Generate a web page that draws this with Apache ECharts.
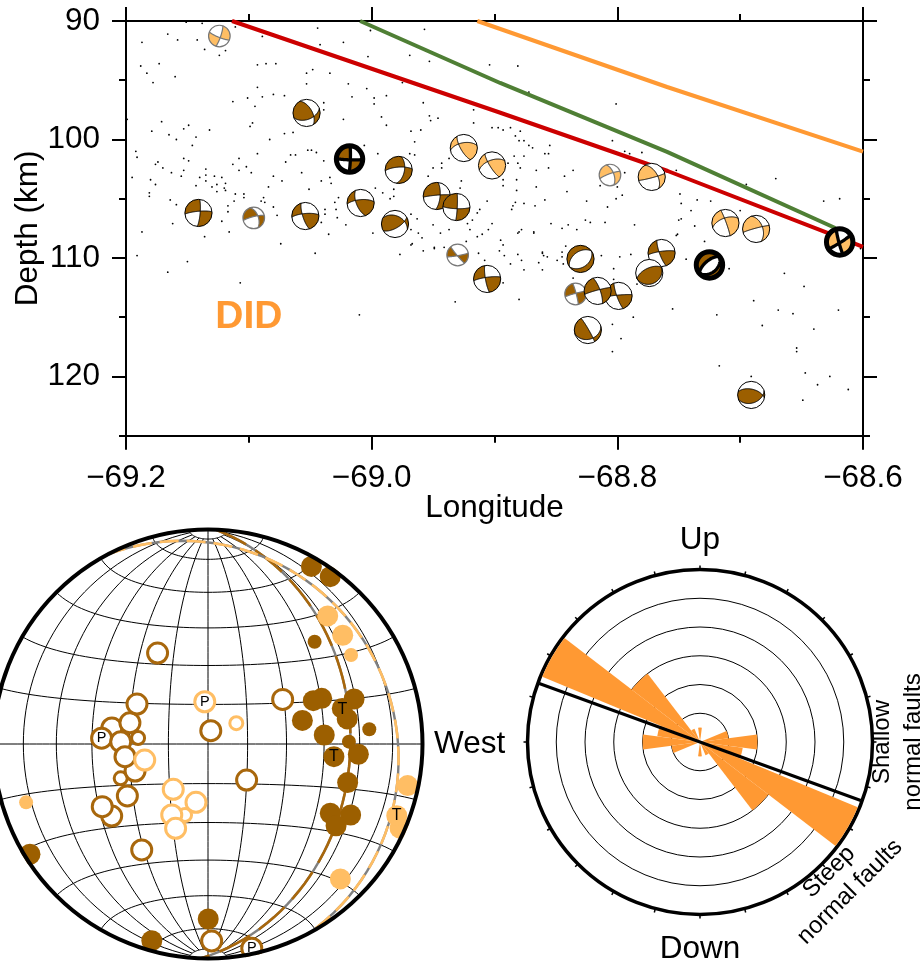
<!DOCTYPE html>
<html><head><meta charset="utf-8">
<style>html,body{margin:0;padding:0;background:#fff}#c{width:922px;height:965px}</style>
<script src="https://cdn.jsdelivr.net/npm/echarts@6/dist/echarts.min.js"></script>
</head><body><div id="c"></div>
<script>
// ---------- section plot data ----------
const xTicks = [-69.2, -69.0, -68.8, -68.6];
const yTicks = [90, 100, 110, 120];
const redLine = [[-69.1137,90],[-68.897,97.68],[-68.759,102.66],[-68.631,107.8],[-68.6,109.07]];
const greenLine = [[-69.0094,90],[-68.8954,95.23],[-68.7595,101.05],[-68.6226,107.47]];
const orangeLine = [[-68.914,90],[-68.7595,95.57],[-68.6,101.03]];
const regionLabel = [[-69.1,115]];
const quakeDots = [
[-69.187,91.8],[-69.166,91.1],[-69.158,91.6],[-69.151,90.1],[-69.138,90.2],[-69.142,91.6],[-69.136,92.4],[-69.124,92.9],[-69.119,92.5],[-69.111,90.5],
[-69.089,91.3],[-69.044,90.6],[-69.042,92.0],[-69.023,91.8],[-69.001,90.8],[-68.957,90.7],[-69.003,93.0],[-68.969,92.9],[-68.953,93.4],[-68.904,93.7],
[-69.188,93.8],[-69.183,94.4],[-69.173,93.6],[-69.160,94.7],[-69.178,95.2],[-69.093,93.7],[-69.086,93.6],[-69.078,93.6],[-69.053,94.4],[-69.048,94.1],
[-69.034,94.4],[-69.053,95.3],[-69.093,95.6],[-69.019,95.3],[-69.004,95.7],[-68.975,95.2],[-69.113,96.8],[-69.101,96.5],[-69.089,96.4],[-69.080,96.2],
[-69.071,96.3],[-69.095,97.2],[-69.039,96.9],[-69.039,97.5],[-69.016,96.4],[-68.988,96.3],[-68.998,96.5],[-68.998,97.0],[-68.958,96.9],[-68.917,97.5],
[-69.199,98.3],[-69.171,98.5],[-69.179,99.3],[-69.149,98.8],[-69.153,99.1],[-69.132,99.2],[-69.097,98.6],[-69.099,98.9],[-69.165,99.6],[-69.159,100.0],
[-69.143,99.8],[-69.146,100.5],[-69.071,99.5],[-69.064,99.4],[-69.083,100.0],[-69.023,98.3],[-68.992,98.1],[-68.988,98.8],[-68.968,99.3],[-68.960,99.2],
[-68.953,98.0],[-68.952,98.4],[-68.946,98.2],[-68.917,98.6],[-68.902,99.0],[-68.897,99.0],[-68.965,100.2],[-69.192,101.0],[-69.191,101.5],[-69.176,102.1],
[-69.174,101.9],[-69.170,102.4],[-69.163,102.8],[-69.155,103.1],[-69.153,101.6],[-69.149,101.8],[-69.153,102.6],[-69.093,101.2],[-69.108,101.6],[-69.113,102.1],
[-69.102,102.3],[-69.108,102.6],[-69.098,102.8],[-69.066,101.3],[-69.062,101.3],[-69.052,100.9],[-69.049,100.9],[-69.045,101.1],[-69.070,101.9],[-69.039,101.8],
[-69.006,100.5],[-68.995,101.2],[-68.969,101.2],[-68.965,101.3],[-68.937,101.6],[-68.943,102.0],[-68.950,102.4],[-68.943,102.4],[-69.195,103.2],[-69.180,103.4],
[-69.176,103.8],[-69.135,102.5],[-69.135,103.0],[-69.140,103.2],[-69.128,103.1],[-69.122,103.2],[-69.143,103.9],[-69.135,103.5],[-69.126,103.8],[-69.119,103.7],
[-69.130,104.0],[-69.126,104.4],[-69.120,104.1],[-69.119,104.3],[-69.181,104.5],[-69.181,104.8],[-69.164,105.1],[-69.159,105.5],[-69.111,104.6],[-69.104,104.6],
[-69.104,104.9],[-69.112,105.2],[-69.090,105.2],[-69.088,104.9],[-69.087,105.3],[-69.057,102.8],[-69.080,103.1],[-69.073,103.5],[-69.084,104.0],[-69.051,104.2],
[-69.041,103.5],[-69.034,103.2],[-69.033,103.7],[-68.954,103.1],[-68.927,103.5],[-68.928,104.1],[-68.997,104.1],[-69.002,104.5],[-68.991,104.5],[-68.985,105.0],
[-68.982,104.2],[-68.982,104.8],[-69.027,104.9],[-69.030,105.3],[-69.117,105.6],[-69.117,106.1],[-69.080,105.7],[-69.077,106.4],[-69.038,105.9],[-69.038,106.3],
[-69.029,105.9],[-69.162,107.1],[-69.122,106.9],[-69.187,107.8],[-69.116,107.8],[-69.136,108.2],[-69.041,107.0],[-69.035,108.0],[-69.028,106.6],[-69.021,107.2],
[-68.999,107.9],[-68.977,106.8],[-68.968,106.3],[-68.963,106.7],[-68.968,107.6],[-68.950,107.2],[-68.937,107.6],[-68.944,107.9],[-68.962,107.9],[-68.959,108.3],
[-68.922,107.1],[-68.918,106.8],[-68.912,105.9],[-68.906,105.2],[-68.914,106.2],[-68.920,107.6],[-68.914,108.2],[-68.910,108.0],[-68.902,107.1],[-68.905,107.6],
[-68.967,108.8],[-69.074,108.8],[-68.977,109.7],[-69.046,109.6],[-68.958,109.4],[-68.949,109.1],[-68.949,109.2],[-68.941,109.1],[-68.913,109.6],
[-69.191,109.8],[-69.166,111.2],[-69.150,110.3],[-69.107,112.1],[-69.010,114.8],[-68.932,113.7],[-68.908,110.2],[-68.896,109.4],[-68.923,108.6],[-68.968,108.9],
[-68.881,93.8],[-68.872,96.0],[-68.801,97.0],[-68.893,99.2],[-68.887,99.0],[-68.879,99.3],[-68.883,99.7],[-68.880,100.1],[-68.876,100.1],[-68.872,100.5],
[-68.869,100.7],[-68.855,100.5],[-68.859,101.2],[-68.856,101.2],[-68.804,100.1],[-68.794,101.0],[-68.790,101.2],[-68.780,101.1],[-68.752,102.6],[-68.695,103.8],
[-68.671,103.3],[-68.632,105.2],[-68.619,105.0],[-68.884,101.4],[-68.876,101.4],[-68.889,102.0],[-68.881,102.0],[-68.879,102.4],[-68.866,102.6],[-68.856,102.4],
[-68.843,103.1],[-68.836,102.6],[-68.794,102.8],[-68.814,103.9],[-68.800,104.0],[-68.796,104.7],[-68.801,105.0],[-68.841,104.4],[-68.825,105.2],[-68.859,105.1],
[-68.867,105.6],[-68.876,105.4],[-68.883,105.3],[-68.885,105.6],[-68.886,105.9],[-68.882,104.3],[-68.882,103.4],[-68.866,104.0],[-68.893,103.4],[-68.893,103.9],
[-68.808,105.7],[-68.826,106.8],[-68.822,107.0],[-68.810,107.0],[-68.854,107.1],[-68.845,107.5],[-68.840,107.2],[-68.833,107.6],[-68.786,107.2],[-68.868,107.8],
[-68.878,107.6],[-68.880,107.8],[-68.895,108.5],[-68.861,109.5],[-68.845,109.9],[-68.857,109.9],[-68.749,104.6],[-68.748,105.4],[-68.735,105.1],[-68.724,105.2],
[-68.740,106.0],[-68.748,106.7],[-68.750,106.8],[-68.737,107.3],[-68.751,108.0],[-68.729,108.6],[-68.700,106.0],
[-68.893,108.9],[-68.892,109.8],[-68.881,109.7],[-68.878,110.2],[-68.887,110.5],[-68.876,111.0],[-68.893,112.1],[-68.880,113.5],[-68.868,107.9],[-68.881,107.9],
[-68.864,110.4],[-68.861,109.6],[-68.860,109.8],[-68.861,111.0],[-68.849,110.2],[-68.845,109.5],[-68.842,109.0],[-68.844,110.5],[-68.813,109.8],[-68.798,109.9],
[-68.789,109.7],[-68.803,110.9],[-68.744,110.1],[-68.752,108.1],[-68.836,111.7],[-68.803,111.8],[-68.784,112.2],[-68.755,114.3],[-68.787,115.0],[-68.804,115.6],
[-68.797,116.8],[-68.804,117.9],[-68.719,114.8],[-68.709,110.9],[-68.664,111.3],[-68.648,112.4],[-68.689,113.6],[-68.669,114.4],[-68.657,114.7],[-68.620,114.4],
[-68.640,116.0],[-68.682,115.7],[-68.654,117.6],[-68.654,117.9],[-68.717,119.1],[-68.647,119.7],[-68.627,120.0],[-68.637,120.7],[-68.612,121.1],[-68.649,122.0],
[-68.691,120.0],[-68.602,109.2]];
// focal mechanisms
const ballLon =   [-69.124,-69.053,-69.018,-68.978,-68.925,-68.902,-68.947,-68.931,-69.009,-68.981,-69.054,-69.096,-69.141,-68.930,-68.906,-68.806,-68.772,-68.712,-68.687,-68.619,-68.830,-68.764,-68.774,-68.725,-68.834,-68.799,-68.816,-68.824,-68.691];
const ballDepth = [91.27,97.76,101.65,102.57,100.72,102.19,104.77,105.7,105.36,107.13,106.46,106.62,106.2,109.75,111.77,103.0,103.16,107.05,107.55,108.65,110.08,109.58,111.27,110.59,113.04,113.2,112.78,116.08,121.56];
const ballGroup = ['o','b','b','b','o','o','b','b','b','b','b','b','b','b','b','o','o','o','o','o','b','b','b','b','b','b','b','b','b'];
const ballKind =  ['s','n','m','n','n','n','n','n','n','n','n','s','n','s','n','s','n','n','n','m','n','n','n','m','s','n','n','n','n'];
const strike1 =   [112,330, 92,266,260,250,265, 92,265,295,265,256,265,140,262,250, 75,250,255,165,235,262,245,230,255,265,255,330,283];
const dip1 =      [ 80, 57, 85, 73, 58, 58, 85, 80, 70, 40, 75, 80, 80, 85, 80, 80, 85, 60, 85, 85, 45, 80, 60, 63, 85, 85, 85, 85, 55];
const strike2 =   [ 19, 70,  2, 10,150,148,  5,  3,158, 60,162,340,  5, 80,170,340,330,340,340, 58, 55,160, 65, 50,345,160,340, 75, 72];
const dip2 =      [ 80, 50, 85, 55, 72, 78, 70, 85, 65, 65, 75, 55, 80, 85, 80, 60, 55, 85, 50, 85, 38, 78, 20, 40, 85, 80, 75, 32, 40];
const fillAz =    [250,270,315,340,120, 90,330,300,130,  0,130,320,315,275,130,320,300,300,300,100,330,130,  0,320,320,130,300,280,  0];
const fillRho =   [ .6, .3, .5, .6, .4, .6, .6, .6, .6, .1, .6, .6, .6, .6, .6, .6, .6, .6, .6, .6, .8, .6,.05, .8, .6, .6, .6, .5,  0];
// ---------- stereonet data (net coordinates, -1..1) ----------
const hollowBrown = [[-.235,.424],[-.448,.075],[-.364,.099],[-.331,.186],[-.496,.027],[-.407,.011],[.013,.062],[.348,.208],[.180,-.168],[-.340,-.126],[-.387,-.059],[-.376,-.242],[-.449,-.336],[-.493,-.292],[-.309,-.494],[.017,-.918],[.204,-.952]];
const hollowBrownSmall = [[-.326,.028],[-.407,-.160]];
const hollowOrange = [[-.015,.197],[-.295,-.075],[-.162,-.211],[-.056,-.272],[-.169,-.331],[-.151,-.393]];
const hollowOrangeSmall = [[.132,.097],[-.107,-.331]];
const filledBrown = [[.482,.828],[.570,.780],[.530,.213],[.491,.202],[.681,.210],[.440,.110],[.542,.042],[.626,.166],[.649,.117],[.587,-.059],[.701,-.048],[.651,-.180],[.570,-.323],[.665,-.331],[.597,-.381],[.001,-.816],[-.830,-.514],[-.262,-.917]];
const filledBrownSmall = [[.497,.477],[.752,.069],[.657,.011]];
const filledOrange = [[.558,.597],[.628,.507],[.931,-.194],[.895,-.392],[.880,-.334],[.617,-.629]];
const filledOrangeSmall = [[.667,.415],[-.848,-.272]];
const pAxisLabels = [[-.496,.027],[-.015,.197],[.204,-.952]];
const tAxisLabels = [[.626,.160],[.587,-.059],[.880,-.334]];
const meanPlanes = [{strike:2,dip:34,color:'brown'},{strike:332,dip:14,color:'orange'}];
// ---------- rose data ----------
const roseAzimuth = [0,75,90,105,120,135,150,180,255,270,285,300,315,330];
const roseCount =   [.5,1,2,1.5,5.94,3,.5,.5,1,2,1.5,5.94,3,.5];
const roseMeanLine = [[5.95,110],[5.95,290]];

const BROWN='#9C5F00', LIGHT='#FFBE64', RING='#A8670C', ORANGE='#FF9933', FONT='"Liberation Sans", Arial, sans-serif';
const rad=Math.PI/180;
function planeVec(s,d,t){const S=[Math.sin(s*rad),Math.cos(s*rad),0],D=[Math.cos(d*rad)*Math.cos(s*rad),-Math.cos(d*rad)*Math.sin(s*rad),Math.sin(d*rad)];
 const c=Math.cos(t*rad),n=Math.sin(t*rad);return [c*S[0]+n*D[0],c*S[1]+n*D[1],c*S[2]+n*D[2]];}
function proj(v){const k=1/Math.sqrt(1+Math.max(v[2],0));return [v[0]*k,v[1]*k];}
function normal(s,d){return [-Math.sin(d*rad)*Math.cos(s*rad),Math.sin(d*rad)*Math.sin(s*rad),Math.cos(d*rad)];}
function dot(a,b){return a[0]*b[0]+a[1]*b[1]+a[2]*b[2];}
function cross(a,b){return [a[1]*b[2]-a[2]*b[1],a[2]*b[0]-a[0]*b[2],a[0]*b[1]-a[1]*b[0]];}
function unit(a){const L=Math.hypot(a[0],a[1],a[2])||1;return a.map(q=>q/L);}
function curve(s,d){const o=[];for(let t=0;t<=180;t+=3)o.push(proj(planeVec(s,d,t)));return o;}
// a quadrant is a convex region of the sphere: order its boundary around its own mean direction
function region(s1,d1,s2,d2,sg1,sg2){
 const n1=normal(s1,d1),n2=normal(s2,d2),raw=[];const e=1e-9;
 for(let t=0;t<=180;t+=3){let v=planeVec(s1,d1,t);if(sg2*dot(n2,v)>=-e)raw.push(v);
  v=planeVec(s2,d2,t);if(sg1*dot(n1,v)>=-e)raw.push(v);}
 for(let a=0;a<360;a+=3){const v=[Math.sin(a*rad),Math.cos(a*rad),0];if(sg1*dot(n1,v)>=0&&sg2*dot(n2,v)>=0)raw.push(v);}
 let X=unit(cross(n1,n2));if(X[2]<0)X=X.map(q=>-q);raw.push(X);
 if(raw.length<3)return [];
 const m=unit(raw.reduce((p,q)=>[p[0]+q[0],p[1]+q[1],p[2]+q[2]],[0,0,0]));
 const e1=unit(cross(m,Math.abs(m[2])<.9?[0,0,1]:[1,0,0])),e2=cross(m,e1);
 return raw.map(v=>({v:v,a:Math.atan2(dot(v,e2),dot(v,e1))})).sort((p,q)=>p.a-q.a).map(o=>proj(o.v));
}
function renderBall(params,api){
 const i=params.dataIndex,c=api.coord([api.value(0),api.value(1)]),kind=ballKind[i];
 const R=kind==='s'?10.8:kind==='m'?13.2:13.6, edge=kind==='s'?'#777':'#000', lwO=kind==='m'?5:kind==='s'?1.2:1, lwC=kind==='m'?3.3:kind==='s'?1.2:1;
 const fill=ballGroup[i]==='b'?BROWN:LIGHT, px=p=>[c[0]+p[0]*R,c[1]-p[1]*R];
 const th=2*Math.asin(fillRho[i]/Math.SQRT2),az=fillAz[i]*rad,v=[Math.sin(th)*Math.sin(az),Math.sin(th)*Math.cos(az),Math.cos(th)];
 const n1=normal(strike1[i],dip1[i]),n2=normal(strike2[i],dip2[i]),g1=dot(n1,v)>=0?1:-1,g2=dot(n2,v)>=0?1:-1;
 const kids=[{type:'circle',shape:{cx:c[0],cy:c[1],r:R},style:{fill:'#fff'}}];
 [[g1,g2],[-g1,-g2]].forEach(g=>{const r=region(strike1[i],dip1[i],strike2[i],dip2[i],g[0],g[1]);
  if(r.length>2)kids.push({type:'polygon',shape:{points:r.map(px)},style:{fill:fill}});});
 [[strike1[i],dip1[i]],[strike2[i],dip2[i]]].forEach(p=>kids.push({type:'polyline',shape:{points:curve(p[0],p[1]).map(px)},style:{fill:'none',stroke:edge,lineWidth:lwC}}));
 kids.push({type:'circle',shape:{cx:c[0],cy:c[1],r:R},style:{fill:'none',stroke:edge,lineWidth:lwO}});
 return {type:'group',children:kids};
}
// net graticule
function eqArea(lat,lon){const a=lat*rad,b=lon*rad;return proj([Math.cos(a)*Math.sin(b),Math.sin(a),Math.cos(a)*Math.cos(b)]);}
const netPaths=[];
for(let lon=-75;lon<=75;lon+=15){const p=[],m=lon===0?90:85;for(let la=-m;la<=m;la+=2.5)p.push(eqArea(Math.max(-m,Math.min(m,la)),lon));p.push(eqArea(m,lon));netPaths.push(p);}
[-85,-75,-60,-45,-30,-15,0,15,30,45,60,75,85].forEach(la=>{const p=[];for(let lo=-90;lo<=90;lo+=3)p.push(eqArea(la,lo));netPaths.push(p);});

const ax={lineStyle:{color:'#000',width:2}};
const label={color:'#000',fontSize:31.5,fontFamily:FONT};
function xAx(pos,show){return {type:'value',gridIndex:0,position:pos,min:-69.2,max:-68.6,interval:.2,
 axisLine:{show:true,onZero:false,...ax},axisTick:{show:true,length:14,...ax},minorTick:{show:true,splitNumber:2,length:7,...ax},
 splitLine:{show:false},minorSplitLine:{show:false},
 axisLabel:{show:show,...label,margin:27,hideOverlap:false,formatter:v=>v.toFixed(1).replace('-','\u2212')},
 name:show?'Longitude':'',nameLocation:'middle',nameGap:57,nameMoveOverlap:false,nameTextStyle:{...label}};}
function yAx(pos,main){return {type:'value',gridIndex:0,position:pos,inverse:true,min:90,max:125,
 axisLine:{show:true,onZero:false,...ax},axisTick:{show:true,length:14,customValues:yTicks,...ax},splitLine:{show:false},
 axisLabel:{show:main,...label,margin:26,customValues:yTicks},
 name:main?'Depth (km)':'',nameLocation:'middle',nameGap:82,nameMoveOverlap:false,nameTextStyle:{...label}};}
function yMinor(pos){return {type:'value',gridIndex:0,position:pos,inverse:true,min:90,max:125,interval:5,
 axisLine:{show:false,onZero:false},axisTick:{show:true,length:7,...ax},splitLine:{show:false},axisLabel:{show:false}};}
function line(d,color){return {type:'line',xAxisIndex:0,yAxisIndex:0,data:d,showSymbol:false,symbol:'none',z:3,lineStyle:{color:color,width:4},clip:true};}
function scat(d,size,fill,stroke,bw,z){return {type:'scatter',xAxisIndex:2,yAxisIndex:4,data:d,symbolSize:size,z:z,clip:false,
 itemStyle:{color:fill,opacity:1,borderColor:stroke||fill,borderWidth:bw||0}};}
function axisText(d,txt,size){return {type:'scatter',xAxisIndex:2,yAxisIndex:4,data:d,symbolSize:0,z:4,clip:false,itemStyle:{opacity:1},
 label:{show:true,position:'inside',formatter:txt,opacity:1,color:'#000',fontSize:size,fontFamily:FONT}};}
const netSeries=(o)=>Object.assign({type:'custom',xAxisIndex:2,yAxisIndex:4,clip:false,silent:true},o);

const sectors=roseAzimuth.map((a,i)=>[roseCount[i],a]);
const T=(text,x,y,size,rot,extra)=>({type:'text',x:x,y:y,rotation:rot||0,z:100,silent:true,style:Object.assign({text:text,x:0,y:0,fill:'#000',font:size+'px '+FONT,align:'center',verticalAlign:'middle',textAlign:'center',textVerticalAlign:'middle'},extra||{})});

const chart=echarts.init(document.getElementById('c'),null,{renderer:'canvas'});
chart.setOption({
 animation:false,backgroundColor:'#fff',
 grid:[{left:126,top:21,width:737,height:414.7,containLabel:false,outerBoundsMode:'none'},{left:-6.5,top:529.5,width:429,height:429,containLabel:false,outerBoundsMode:'none'}],
 xAxis:[xAx('bottom',true),xAx('top',false),{type:'value',gridIndex:1,min:-1,max:1,show:false}],
 yAxis:[yAx('left',true),yAx('right',false),yMinor('left'),yMinor('right'),{type:'value',gridIndex:1,min:-1,max:1,show:false}],
 polar:{center:[700,742],radius:172.5},
 angleAxis:{type:'value',min:0,max:360,interval:15,startAngle:90,clockwise:true,
  axisLine:{show:true,lineStyle:{color:'#000',width:3.5}},axisTick:{show:true,length:4,lineStyle:{color:'#000',width:1.5}},axisLabel:{show:false},splitLine:{show:false}},
 radiusAxis:{type:'value',min:0,max:6,interval:1,axisLine:{show:false},axisTick:{show:false},axisLabel:{show:false},splitLine:{show:true,lineStyle:{color:'#000',width:1}}},
 series:[
  {type:'scatter',xAxisIndex:0,yAxisIndex:0,data:quakeDots,symbolSize:1.8,z:2,itemStyle:{color:'#000',opacity:1}},
  line(redLine,'#CC0000'),line(greenLine,'#4F7F35'),line(orangeLine,ORANGE),
  {type:'custom',xAxisIndex:0,yAxisIndex:0,clip:false,z:4,silent:true,renderItem:renderBall,encode:{x:0,y:1},data:ballLon.map((v,i)=>[v,ballDepth[i]])},
  {type:'scatter',xAxisIndex:0,yAxisIndex:0,data:regionLabel,symbolSize:0,z:4,itemStyle:{opacity:1},label:{show:true,position:'inside',formatter:'DID',opacity:1,color:ORANGE,fontSize:39,fontWeight:'bold',fontFamily:FONT}},
  // stereonet
  netSeries({z:1,data:netPaths.map(()=>[0,0]),renderItem:(p,api)=>({type:'polyline',shape:{points:netPaths[p.dataIndex].map(q=>api.coord(q))},style:{fill:'none',stroke:'#000',lineWidth:1}})}),
  netSeries({z:2,data:meanPlanes.map(()=>[0,0]),renderItem:(p,api)=>{const m=meanPlanes[p.dataIndex],pts=curve(m.strike,m.dip).map(q=>api.coord(q));
   return {type:'group',children:[{type:'polyline',shape:{points:pts},style:{fill:'none',stroke:'#808080',lineWidth:2.4}},
    {type:'polyline',shape:{points:pts},style:{fill:'none',stroke:m.color==='brown'?'#A8670C':LIGHT,lineWidth:2.6,lineDash:m.color==='brown'?[34,11]:[19,8]}}]};}}),
  scat(hollowBrownSmall,13,'#fff',RING,3,3),scat(hollowBrown,20,'#fff',RING,3,3),
  scat(hollowOrangeSmall,13,'#fff',LIGHT,3,3.1),scat(hollowOrange,20,'#fff',LIGHT,3,3.1),
  scat(filledBrown,21,BROWN,null,0,3),scat(filledBrownSmall,14,BROWN,null,0,3),
  scat(filledOrange,21,LIGHT,null,0,3),scat(filledOrangeSmall,14,LIGHT,null,0,3),
  axisText(pAxisLabels,'P',14.5),axisText(tAxisLabels,'T',16),
  netSeries({z:5,data:[[0,0]],renderItem:(p,api)=>{const c=api.coord([0,0]),r=api.coord([1,0])[0]-c[0];
   return {type:'group',children:[{type:'circle',shape:{cx:c[0],cy:c[1],r:r+8},style:{fill:'none',stroke:'#fff',lineWidth:12}},
    {type:'circle',shape:{cx:c[0],cy:c[1],r:r},style:{fill:'none',stroke:'#000',lineWidth:4}}]};}}),
  // rose
  {type:'custom',coordinateSystem:'polar',polarIndex:0,z:3,silent:true,data:sectors,encode:{radius:0,angle:1},renderItem:(p,api)=>{
    const cs=p.coordSys,pt=api.coord([api.value(0),api.value(1)]),r=Math.hypot(pt[0]-cs.cx,pt[1]-cs.cy),a=api.value(1);
    return {type:'sector',shape:{cx:cs.cx,cy:cs.cy,r0:0,r:r,startAngle:(a-97.5)*rad,endAngle:(a-82.5)*rad,clockwise:true},style:{fill:ORANGE}};}},
  {type:'line',coordinateSystem:'polar',polarIndex:0,data:roseMeanLine,symbol:'none',showSymbol:false,z:4,lineStyle:{color:'#000',width:3}}
 ],
 graphic:[T('West',434,744,31.5,0,{align:'left',textAlign:'left'}),T('Up',700,540,31.5),T('Down',700,949,31.5),
  T('Shallow',882,742,24,Math.PI/2),T('normal faults',913,742,24,Math.PI/2),
  T('Steep',829,872,24,Math.PI/4),T('normal faults',850,892,24,Math.PI/4)]
});
</script></body></html>
